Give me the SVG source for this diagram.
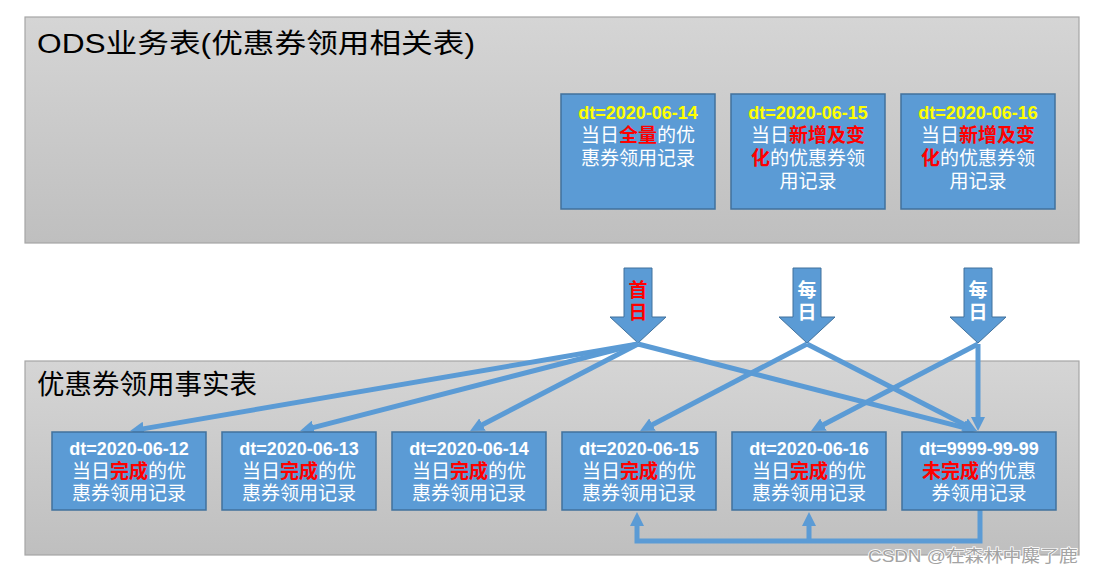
<svg xmlns="http://www.w3.org/2000/svg" width="1096" height="574" viewBox="0 0 1096 574">
<style>
.panel{stroke:#a6a6a6;stroke-width:1.2}
.title{font-family:"Liberation Sans","Noto Sans CJK SC",sans-serif;font-size:27px;fill:#000}
.box{fill:#5b9bd5;stroke:#41719c;stroke-width:1.5}
.dt{font-family:"Liberation Sans",Arial,sans-serif;font-size:18px;font-weight:bold;text-anchor:middle}
.dtw{fill:#fff}
.dty{fill:#ffff00}
.cj{font-family:"Noto Sans CJK SC",sans-serif;font-size:19px;fill:#fff}
.mid{text-anchor:middle}
.red{fill:#ff0000;font-weight:bold}
.barrow{fill:#5b9bd5;stroke:#41719c;stroke-width:1}
.blab{font-family:"Noto Sans CJK SC",sans-serif;font-size:19px;font-weight:bold;text-anchor:middle}
.conn{fill:none;stroke:#5b9bd5;stroke-width:5;marker-end:url(#ah)}
.wm{font-family:"Liberation Sans","Noto Sans CJK SC",sans-serif;font-size:17px;fill:#a3a3a3;stroke:#ffffff;stroke-width:1.5;paint-order:stroke}
</style>
<defs>
<linearGradient id="pg" x1="0" y1="0" x2="0" y2="1">
<stop offset="0" stop-color="#d5d5d5"/>
<stop offset="1" stop-color="#bfbfbf"/>
</linearGradient>
<marker id="ah" viewBox="0 0 10 10" refX="4" refY="5" markerUnits="userSpaceOnUse" markerWidth="14" markerHeight="14" orient="auto">
<path d="M0,0 L10,5 L0,10 z" fill="#5b9bd5"/>
</marker>
</defs>
<rect width="1096" height="574" fill="#ffffff"/>

<g id="ods-panel">
<rect class="panel" x="25" y="17" width="1054" height="226" fill="url(#pg)"/>
<text class="title" x="37" y="53" textLength="438" lengthAdjust="spacingAndGlyphs">ODS业务表(优惠券领用相关表)</text>
</g>

<g id="fact-panel">
<rect class="panel" x="25" y="361" width="1054" height="194" fill="url(#pg)"/>
<text class="title" x="37" y="394" textLength="220" lengthAdjust="spacingAndGlyphs">优惠券领用事实表</text>
</g>

<g id="ods-0614">
<rect class="box" x="561" y="94" width="154" height="115"/>
<text class="dt dty" x="638" y="119">dt=2020-06-14</text>
<text class="cj" x="581" y="142">当日</text>
<text class="cj red" x="619" y="142">全量</text>
<text class="cj" x="657" y="142">的优</text>
<text class="cj mid" x="638" y="165">惠券领用记录</text>
</g>
<g id="ods-0615">
<rect class="box" x="731" y="94" width="154" height="115"/>
<text class="dt dty" x="808" y="119">dt=2020-06-15</text>
<text class="cj" x="751" y="142">当日</text>
<text class="cj red" x="789" y="142">新增及变</text>
<text class="cj red" x="751" y="165">化</text>
<text class="cj" x="770" y="165">的优惠券领</text>
<text class="cj mid" x="808" y="188">用记录</text>
</g>
<g id="ods-0616">
<rect class="box" x="901" y="94" width="154" height="115"/>
<text class="dt dty" x="978" y="119">dt=2020-06-16</text>
<text class="cj" x="921" y="142">当日</text>
<text class="cj red" x="959" y="142">新增及变</text>
<text class="cj red" x="921" y="165">化</text>
<text class="cj" x="940" y="165">的优惠券领</text>
<text class="cj mid" x="978" y="188">用记录</text>
</g>

<g id="arrow-first">
<path class="barrow" d="M624,268 H652 V317 H666 L638,343 L610,317 H624 Z"/>
<text class="blab" x="638" y="297" fill="#ff0000">首</text>
<text class="blab" x="638" y="319" fill="#ff0000">日</text>
</g>
<g id="arrow-daily-1">
<path class="barrow" d="M793,268 H821 V317 H835 L807,343 L779,317 H793 Z"/>
<text class="blab" x="807" y="297" fill="#ffffff">每</text>
<text class="blab" x="807" y="319" fill="#ffffff">日</text>
</g>
<g id="arrow-daily-2">
<path class="barrow" d="M964,268 H992 V317 H1006 L978,343 L950,317 H964 Z"/>
<text class="blab" x="978" y="297" fill="#ffffff">每</text>
<text class="blab" x="978" y="319" fill="#ffffff">日</text>
</g>

<g id="connectors">
<path class="conn" d="M638,344 L138.3,429.6"/>
<path class="conn" d="M638,344 L308.1,428.9"/>
<path class="conn" d="M638,344 L477.5,427.2"/>
<path class="conn" d="M638,344 L968.9,428.9"/>
<path class="conn" d="M807,344 L647.5,427.2"/>
<path class="conn" d="M807,344 L969.5,427.2"/>
<path class="conn" d="M978,344 L818.5,427.2"/>
<path class="conn" d="M978,344 L978,422.6"/>
<path class="conn" d="M980,510 V541 H637 V520.4"/>
<path class="conn" d="M809,541 V520.4"/>
</g>

<g id="fact-0612">
<rect class="box" x="52" y="432" width="154" height="78"/>
<text class="dt dtw" x="129" y="455">dt=2020-06-12</text>
<text class="cj" x="72" y="478">当日</text>
<text class="cj red" x="110" y="478">完成</text>
<text class="cj" x="148" y="478">的优</text>
<text class="cj mid" x="129" y="500">惠券领用记录</text>
</g>
<g id="fact-0613">
<rect class="box" x="222" y="432" width="154" height="78"/>
<text class="dt dtw" x="299" y="455">dt=2020-06-13</text>
<text class="cj" x="242" y="478">当日</text>
<text class="cj red" x="280" y="478">完成</text>
<text class="cj" x="318" y="478">的优</text>
<text class="cj mid" x="299" y="500">惠券领用记录</text>
</g>
<g id="fact-0614">
<rect class="box" x="392" y="432" width="154" height="78"/>
<text class="dt dtw" x="469" y="455">dt=2020-06-14</text>
<text class="cj" x="412" y="478">当日</text>
<text class="cj red" x="450" y="478">完成</text>
<text class="cj" x="488" y="478">的优</text>
<text class="cj mid" x="469" y="500">惠券领用记录</text>
</g>
<g id="fact-0615">
<rect class="box" x="562" y="432" width="154" height="78"/>
<text class="dt dtw" x="639" y="455">dt=2020-06-15</text>
<text class="cj" x="582" y="478">当日</text>
<text class="cj red" x="620" y="478">完成</text>
<text class="cj" x="658" y="478">的优</text>
<text class="cj mid" x="639" y="500">惠券领用记录</text>
</g>
<g id="fact-0616">
<rect class="box" x="732" y="432" width="154" height="78"/>
<text class="dt dtw" x="809" y="455">dt=2020-06-16</text>
<text class="cj" x="752" y="478">当日</text>
<text class="cj red" x="790" y="478">完成</text>
<text class="cj" x="828" y="478">的优</text>
<text class="cj mid" x="809" y="500">惠券领用记录</text>
</g>
<g id="fact-9999">
<rect class="box" x="902" y="432" width="154" height="78"/>
<text class="dt dtw" x="979" y="455">dt=9999-99-99</text>
<text class="cj red" x="922" y="478">未完成</text>
<text class="cj" x="979" y="478">的优惠</text>
<text class="cj mid" x="979" y="500">券领用记录</text>
</g>

<text class="wm" x="868" y="562" textLength="210" lengthAdjust="spacingAndGlyphs">CSDN @在森林中麋了鹿</text>
</svg>
